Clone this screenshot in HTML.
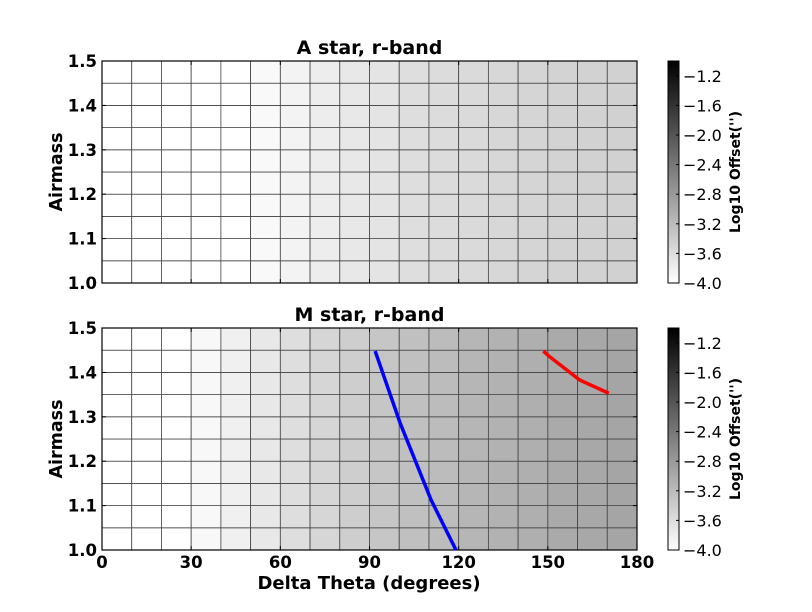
<!DOCTYPE html>
<html><head><meta charset="utf-8"><style>
html,body{margin:0;padding:0;background:#fff;}
svg{display:block;font-family:"DejaVu Sans","Liberation Sans",sans-serif;}
</style></head><body>
<svg id="fig" width="812" height="612" viewBox="0 0 812 612">
<defs>
<linearGradient id="cbg" x1="0" y1="1" x2="0" y2="0">
<stop offset="0" stop-color="#ffffff"/><stop offset="1" stop-color="#000000"/>
</linearGradient>
</defs>
</svg>
<script>
// ---- data ----
const xEdges = [0,10,20,30,40,50,60,70,80,90,100,110,120,130,140,150,160,170,180];
const yEdges = [1.0,1.05,1.1,1.15,1.2,1.25,1.3,1.35,1.4,1.45,1.5];
const aStarLog = [-4,-4,-4,-4,-4,-3.93,-3.86,-3.79,-3.73,-3.68,-3.61,-3.59,-3.56,-3.53,-3.51,-3.48,-3.47,-3.46];
const mStarLog = [-4,-4,-4,-3.92,-3.82,-3.73,-3.61,-3.52,-3.42,-3.33,-3.26,-3.21,-3.14,-3.09,-3.06,-3.0,-2.98,-2.94];
const blueTheta = [91.9,100.3,110.7,119.1];
const blueAirmass = [1.448,1.286,1.113,1.0];
const redTheta = [148.5,150.3,160.7,170.5];
const redAirmass = [1.448,1.437,1.383,1.353];
const xTicks = [0,30,60,90,120,150,180];
const yTicks = [1.0,1.1,1.2,1.3,1.4,1.5];
const cbTicks = [-4.0,-3.6,-3.2,-2.8,-2.4,-2.0,-1.6,-1.2];

const NS="http://www.w3.org/2000/svg";
const svg=document.getElementById('fig');
function mk(tag,attrs,parent){const e=document.createElementNS(NS,tag);for(const k in attrs)e.setAttribute(k,attrs[k]);(parent||svg).appendChild(e);return e;}
const X0=102,X1=637;
const xs=v=>X0+(v-0)/(180-0)*(X1-X0);
function gray(v){const t=Math.max(0,Math.min(1,(v+4)/3));const g=Math.round(255*(1-t));return `rgb(${g},${g},${g})`;}

function panel(top,title,vals,name,showX){
  const Y0=top,Y1=top+222;
  const ys=v=>Y1-(v-1.0)/(0.5)*(Y1-Y0);
  const g=mk('g',{});
  
  
  for(let i=0;i<xEdges.length-1;i++){
    for(let j=0;j<yEdges.length-1;j++){
      const r=mk('rect',{x:xs(xEdges[i]),y:ys(yEdges[j+1]),width:xs(xEdges[i+1])-xs(xEdges[i]),height:ys(yEdges[j])-ys(yEdges[j+1]),fill:gray(vals[i]),stroke:'#444','stroke-width':0.8},g);
      
      
    }
  }
  const fr=mk('rect',{x:X0,y:Y0,width:X1-X0,height:Y1-Y0,fill:'none',stroke:'#000','stroke-width':1.2},g);
  
  
  yTicks.forEach(t=>{
    const y=ys(t);
    mk('line',{x1:X0,x2:X0+4,y1:y,y2:y,stroke:'#000'},g);
    mk('line',{x1:X1,x2:X1-4,y1:y,y2:y,stroke:'#000'},g);
    const tx=mk('text',{x:X0-5,y:y+6,'text-anchor':'end','font-size':16.5,'font-weight':'bold'},g);
    tx.textContent=t.toFixed(1);
    
    
  });
  xTicks.forEach(t=>{
    const x=xs(t);
    mk('line',{x1:x,x2:x,y1:Y1,y2:Y1-4,stroke:'#000'},g);
    mk('line',{x1:x,x2:x,y1:Y0,y2:Y0+4,stroke:'#000'},g);
    if(showX){
      const tx=mk('text',{x:x,y:Y1+18,'text-anchor':'middle','font-size':16.5,'font-weight':'bold'},g);
      tx.textContent=t;
      
      
    }
  });
  const tt=mk('text',{x:(X0+X1)/2,y:Y0-7,'text-anchor':'middle','font-size':19,'font-weight':'bold'},g);
  tt.textContent=title;
  
  
  const yl=mk('text',{x:0,y:0,'text-anchor':'middle','font-size':17.5,'font-weight':'bold',transform:`translate(62,${(Y0+Y1)/2}) rotate(-90)`},g);
  yl.textContent='Airmass';
  
  
  // colorbar
  const CX=668,CW=11;
  const cs=v=>Y1-(v+4)/3*(Y1-Y0);
  const cb=mk('rect',{x:CX,y:Y0,width:CW,height:Y1-Y0,fill:'url(#cbg)',stroke:'#000','stroke-width':1},g);
  
  
  cbTicks.forEach(t=>{
    const y=cs(t);
    mk('line',{x1:CX+CW-3,x2:CX+CW,y1:y,y2:y,stroke:'#000'},g);
    const tx=mk('text',{x:CX+CW+4,y:y+6,'font-size':16},g);
    tx.textContent='\u2212'+Math.abs(t).toFixed(1);
    
    
  });
  const cl=mk('text',{x:0,y:0,'text-anchor':'middle','font-size':14,'font-weight':'bold',transform:`translate(740,${(Y0+Y1)/2}) rotate(-90)`},g);
  cl.textContent="Log10 Offset('')";
  
  
  return ys;
}
panel(61,'A star, r-band',aStarLog,'a-star-panel',false);
const ys2=panel(328,'M star, r-band',mStarLog,'m-star-panel',true);
function line(th,am,color,name){
  const p=mk('polyline',{points:th.map((t,i)=>xs(t)+','+ys2(am[i])).join(' '),fill:'none',stroke:color,'stroke-width':3.5});
  
  
}
line(blueTheta,blueAirmass,'#0000ff','blue-line');
line(redTheta,redAirmass,'#ff0000','red-line');
const xl=mk('text',{x:369,y:589,'text-anchor':'middle','font-size':18,'font-weight':'bold'});
xl.textContent='Delta Theta (degrees)';


</script>
</body></html>
